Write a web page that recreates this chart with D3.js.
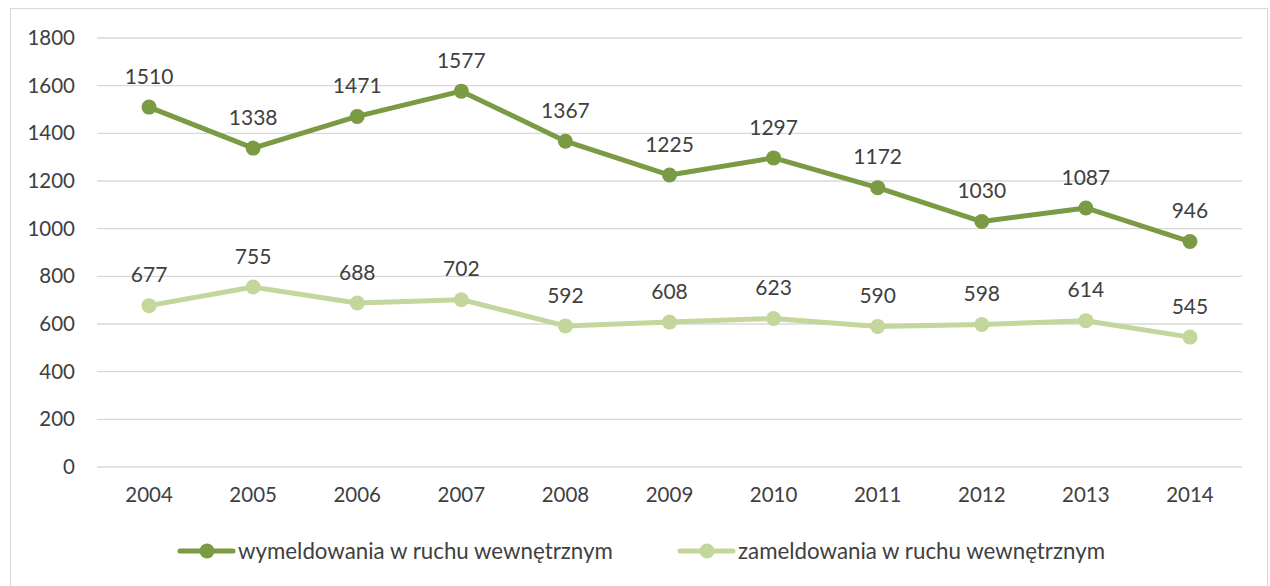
<!DOCTYPE html>
<html>
<head>
<meta charset="utf-8">
<script src="https://cdn.jsdelivr.net/npm/d3@7"></script>
<style>
  body { margin: 0; background: #fff; }
  svg text { font-family: Lato, "Open Sans", sans-serif; fill: #404040; }
</style>
</head>
<body>
<div class="canvas"></div>
<script>
const years = ["2004", "2005", "2006", "2007", "2008", "2009", "2010", "2011", "2012", "2013", "2014"];
const wymeldowania = [1510, 1338, 1471, 1577, 1367, 1225, 1297, 1172, 1030, 1087, 946];
const zameldowania = [677, 755, 688, 702, 592, 608, 623, 590, 598, 614, 545];
const yTicks = [0, 200, 400, 600, 800, 1000, 1200, 1400, 1600, 1800];
const seriesNames = ["wymeldowania w ruchu wewnętrznym", "zameldowania w ruchu wewnętrznym"];
const colors = ["#7a9a43", "#c3d69b"];

const w = 1270;
const h = 586;
const plotL = 97, plotR = 1242, plotT = 38, plotB = 467;

const svg = d3.select(".canvas").append("svg").attr("width", w).attr("height", h);

svg.append("rect")
  .attr("x", 10.5).attr("y", 8.5)
  .attr("width", 1257).attr("height", 590)
  .attr("fill", "#fff").attr("stroke", "#d9d9d9");

const xScale = d3.scaleBand(years, [plotL, plotR]);
const yScale = d3.scaleLinear([0, 1800], [plotB, plotT]);

// grid
svg.append("g")
  .selectAll("line")
  .data(yTicks)
  .join("line")
  .attr("x1", plotL).attr("x2", plotR)
  .attr("y1", d => yScale(d)).attr("y2", d => yScale(d))
  .attr("stroke", "#d9d9d9").attr("stroke-width", 1.3);

const yAxis = d3.axisLeft(yScale).tickValues(yTicks).tickFormat(d3.format("d")).tickSize(0).tickPadding(22);
svg.append("g")
  .attr("transform", `translate(${plotL}, 0)`)
  .call(yAxis)
  .call(g => g.select(".domain").remove())
  .selectAll("text").style("font-size", "20.5px").attr("fill", "#595959");

const xAxis = d3.axisBottom(xScale).tickSize(0).tickPadding(20);
svg.append("g")
  .attr("transform", `translate(0, ${plotB})`)
  .call(xAxis)
  .call(g => g.select(".domain").remove())
  .selectAll("text").style("font-size", "20.5px").attr("fill", "#595959");

const cx = d => xScale(d) + xScale.bandwidth() / 2;
const line = d3.line().x(d => cx(d[0])).y(d => yScale(d[1]));

[wymeldowania, zameldowania].forEach((vals, i) => {
  const pts = years.map((y, j) => [y, vals[j]]);
  const g = svg.append("g");
  g.append("path")
    .datum(pts)
    .attr("d", line)
    .attr("fill", "none")
    .attr("stroke", colors[i])
    .attr("stroke-width", 5)
    .attr("stroke-linejoin", "round");
  g.selectAll("circle")
    .data(pts)
    .join("circle")
    .attr("cx", d => cx(d[0]))
    .attr("cy", d => yScale(d[1]))
    .attr("r", 7.5)
    .attr("fill", colors[i]);
  g.selectAll("text")
    .data(pts)
    .join("text")
    .attr("x", d => cx(d[0]))
    .attr("y", d => yScale(d[1]) - 40)
    .attr("text-anchor", "middle")
    .attr("dominant-baseline", "hanging")
    .style("font-size", "21px")
    .text(d => d[1]);
});

// legend
const legendX = [180, 680];
seriesNames.forEach((name, i) => {
  const g = svg.append("g").attr("transform", `translate(${legendX[i]}, 551)`);
  g.append("line").attr("x1", 0).attr("x2", 53).attr("y1", 0).attr("y2", 0)
    .attr("stroke", colors[i]).attr("stroke-width", 5).attr("stroke-linecap", "round");
  g.append("circle").attr("cx", 27).attr("cy", 0).attr("r", 7.5).attr("fill", colors[i]);
  g.append("text").attr("x", 58).attr("y", 0).attr("dy", "0.35em")
    .style("font-size", "22.3px").text(name);
});
</script>
</body>
</html>
